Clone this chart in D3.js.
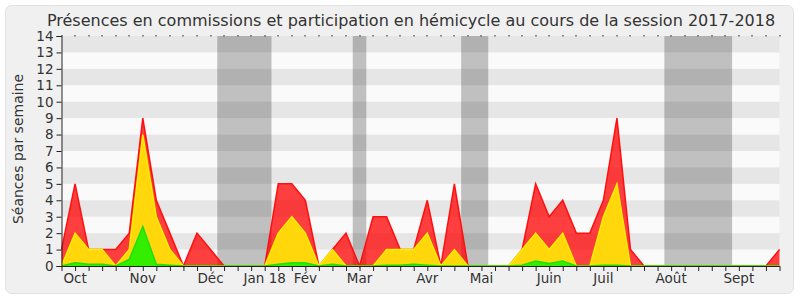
<!DOCTYPE html>
<html><head><meta charset="utf-8">
<script src="https://cdn.jsdelivr.net/npm/d3@7"></script>
<style>html,body{margin:0;padding:0;background:#fff;}svg{display:block;font-family:"DejaVu Sans",Verdana,sans-serif;}</style>
</head><body><svg id="c" width="800" height="300"></svg>
<script>
// weekly values, week index 0..53 (session 2017-2018)
const weeks = d3.range(54);
const presence = [1,5,1,1,1,2,9,4,2,0, 2,1,0,0,0,0,5,5,4,0, 1,2,0,3,3,1,1,4,0,5, 0,0,0,0,1,5,3,4,2,2, 4,9,1,0,0,0,0,0,0,0, 0,0,0,1];
const commission = [0,2,1,1,0,1,8,3,1,0, 0,0,0,0,0,0,2,3,2,0, 1,0,0,0,1,1,1,2,0,1, 0,0,0,0,1,2,1,2,0,0, 3,5,0,0,0,0,0,0,0,0, 0,0,0,0];
const hemicycle = [0,0.2,0.1,0.1,0,0.4,2.4,0.1,0.05,0, 0,0,0,0,0,0,0.1,0.2,0.2,0, 0.1,0,0,0,0.05,0.05,0.1,0.05,0,0, 0,0,0,0,0.05,0.3,0.15,0.3,0,0, 0.05,0.05,0,0,0,0,0,0,0,0, 0,0,0,0];
const monthWeeks = [1,6,11,15,18,22,27,31,36,40,45,50];
const monthNames = ["Oct","Nov","Déc","Jan 18","Fév","Mar","Avr","Mai","Juin","Juil","Août","Sept"];
const vacStart = [11.5,21.5,29.5,44.5];
const vacEnd = [15.5,22.5,31.5,49.5];
const yTicks = d3.range(0,15);
const title = "Présences en commissions et participation en hémicycle au cours de la session 2017-2018";
const yLabel = "Séances par semaine";

const svg = d3.select("#c");
const L=61.5, R=779.5, T=36, B=266;
const x = d3.scaleLinear().domain([0,53]).range([L,R]);
const y = d3.scaleLinear().domain([0,14]).range([B,T]);

svg.append("rect").attr("x",5.5).attr("y",5.5).attr("width",788).attr("height",288).attr("rx",6)
  .attr("fill","#f0f0f0").attr("stroke","#e2e2e2");

svg.append("rect").attr("x",L).attr("y",T).attr("width",R-L).attr("height",B-T).attr("fill","#fafafa");
// vacation bands
svg.append("g").selectAll("rect").data(vacStart).join("rect")
  .attr("x",(d)=>x(d)).attr("width",(d,i)=>x(vacEnd[i])-x(d))
  .attr("y",T).attr("height",B-T).attr("fill","#c0c0c0");
// stripes
svg.append("g").selectAll("rect").data(yTicks.filter(v=>v%2===1)).join("rect")
  .attr("x",L).attr("width",R-L).attr("y",d=>y(d+1)).attr("height",d=>y(d)-y(d+1))
  .attr("fill","rgba(0,0,0,0.08)");

function drawArea(vals, fill, stroke){
  const area = d3.area().x((d,i)=>x(i)).y0(y(0)).y1(d=>y(d));
  const line = d3.line().x((d,i)=>x(i)).y(d=>y(d));
  svg.append("path").datum(vals).attr("d",area).attr("fill",fill);
  svg.append("path").datum(vals).attr("d",line).attr("fill","none").attr("stroke",stroke).attr("stroke-width",1.5);
}
drawArea(presence,"rgba(255,0,0,0.75)","#ff1010");
drawArea(commission,"#ffd70a","#ffee00");
drawArea(hemicycle,"#33ee00","#22dd00");

// axes
const yAxis = d3.axisLeft(y).tickValues(yTicks).tickSize(5).tickPadding(3).tickFormat(d3.format("d"));
const gy = svg.append("g").attr("transform",`translate(${L},0)`).call(yAxis);
gy.select(".domain").attr("stroke","#222");
gy.selectAll(".tick line").attr("stroke","#222");
gy.selectAll("text").attr("font-size",13.5).attr("fill","#333").attr("font-family","DejaVu Sans");

const xAxis = d3.axisBottom(x).tickValues(weeks).tickSize(5).tickFormat("");
const gx = svg.append("g").attr("transform",`translate(0,${B})`).call(xAxis);
gx.select(".domain").attr("stroke","#222").attr("d",`M${L},0.5H${R}`);
gx.selectAll(".tick line").attr("stroke","#222");

// top tiny ticks
svg.append("g").selectAll("rect").data(weeks).join("rect")
  .attr("x",d=>Math.round(x(d))-0.5).attr("y",T-1).attr("width",1).attr("height",1.5).attr("fill","#222");

svg.append("g").selectAll("text").data(monthWeeks).join("text")
  .attr("x",d=>x(d)).attr("y",283).attr("text-anchor","middle")
  .attr("font-size",13.5).attr("fill","#333").text((d,i)=>monthNames[i]);

svg.append("text").attr("x",411).attr("y",26).attr("text-anchor","middle")
  .attr("font-size",16).attr("fill","#333").text(title);
svg.append("text").attr("transform","translate(23,149) rotate(-90)").attr("text-anchor","middle")
  .attr("font-size",14).attr("fill","#333").text(yLabel);
</script></body></html>
